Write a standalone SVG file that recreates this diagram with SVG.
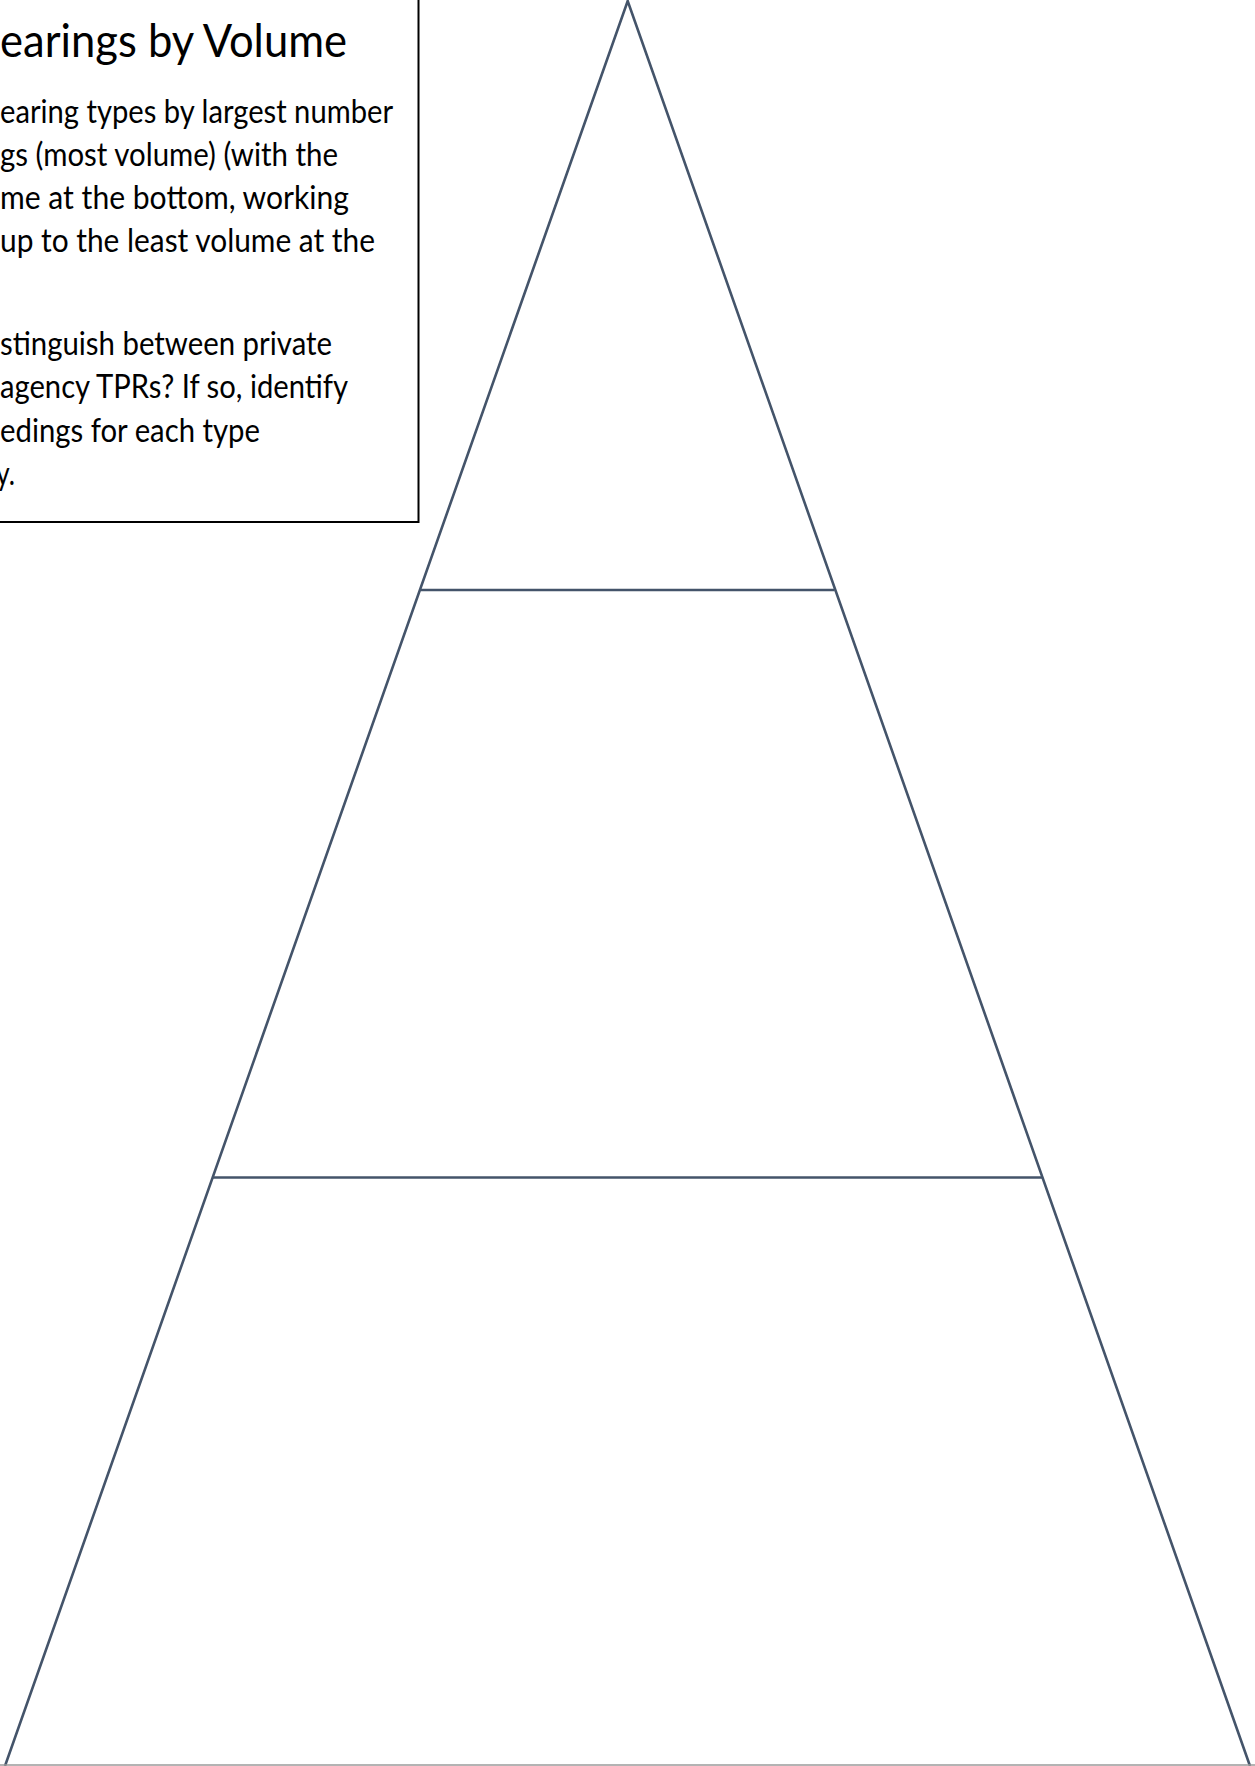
<svg xmlns="http://www.w3.org/2000/svg" width="1255" height="1766" viewBox="0 0 1255 1766">
<style>
.py{fill:none;stroke:#44546A;stroke-width:2.6;stroke-linejoin:miter}
.bx{fill:#fff;stroke:#000;stroke-width:2}
.t{font-family:Lato,"Open Sans","Liberation Sans",sans-serif;fill:#000}
.title{font-size:47px}
.body{font-size:33px}
</style>
<rect width="1255" height="1766" fill="#fff"/>
<g id="pyramid">
<path class="py" d="M5,1766 L627.7,1 L1250,1766"/>
<line class="py" x1="420.5" y1="590" x2="834.5" y2="590"/>
<line class="py" x1="212.8" y1="1177.5" x2="1042" y2="1177.5"/>
<line x1="0" y1="1765" x2="1255" y2="1765" stroke="#9a9a9a" stroke-width="1.5"/>
</g>
<g id="textbox">
<rect class="bx" x="-10" y="-10" width="428.5" height="532"/>
<text class="t title" x="0" y="56.5" textLength="347" lengthAdjust="spacingAndGlyphs">earings by Volume</text>
<text class="t body" x="0" y="122.5" textLength="393" lengthAdjust="spacingAndGlyphs">earing types by largest number</text>
<text class="t body" x="0" y="166" textLength="338" lengthAdjust="spacingAndGlyphs">gs (most volume) (with the</text>
<text class="t body" x="0" y="209" textLength="349" lengthAdjust="spacingAndGlyphs">me at the bottom, working</text>
<text class="t body" x="0" y="252" textLength="375" lengthAdjust="spacingAndGlyphs">up to the least volume at the</text>
<text class="t body" x="0" y="355" textLength="332" lengthAdjust="spacingAndGlyphs">stinguish between private</text>
<text class="t body" x="0" y="398.3" textLength="348" lengthAdjust="spacingAndGlyphs">agency TPRs? If so, identify</text>
<text class="t body" x="0" y="441.5" textLength="260" lengthAdjust="spacingAndGlyphs">edings for each type</text>
<text class="t body" x="-4" y="484.7" textLength="19" lengthAdjust="spacingAndGlyphs">y.</text>
</g>
</svg>
